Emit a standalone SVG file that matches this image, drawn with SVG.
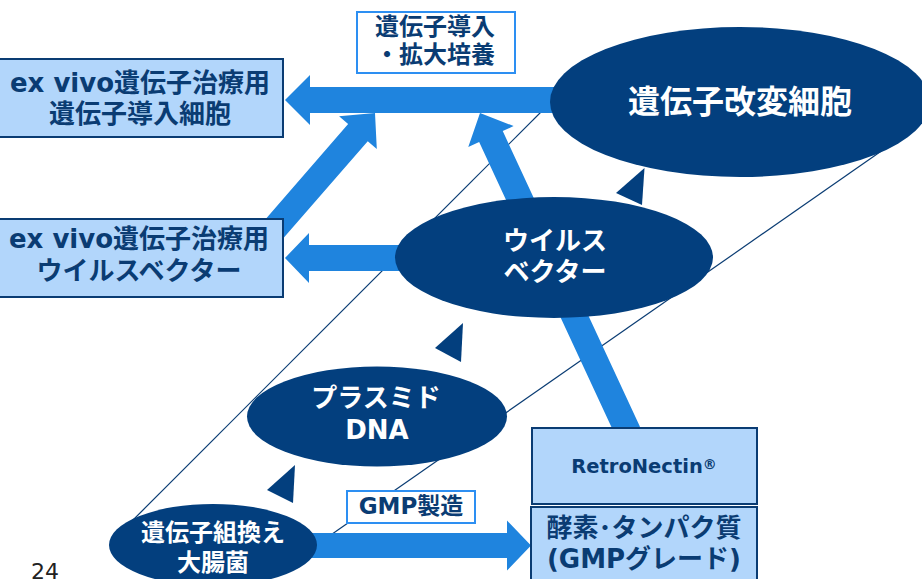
<svg xmlns="http://www.w3.org/2000/svg" width="922" height="579" viewBox="0 0 922 579">
<defs>
<style>
.t{font-family:"DejaVu Sans","Noto Sans CJK JP",sans-serif;font-weight:bold;text-anchor:middle}
.w{fill:#ffffff}
.n{fill:#0a3c73}
.ell{fill:#033f7e}
.box{fill:#b2d6fb;stroke:#0a3c73;stroke-width:2}
.lab{fill:#ffffff;stroke:#2d8ff2;stroke-width:2}
.arr{fill:#1f84de}
.ln{stroke:#0a3c73;stroke-width:1.2;fill:none}
.tri{fill:#033f7e}
</style>
</defs>
<rect width="922" height="579" fill="#ffffff"/>
<g id="connectors">
<line class="ln" x1="130" y1="523" x2="555" y2="98"/>
<line class="ln" x1="310" y1="549.4" x2="890" y2="145"/>
<polygon class="arr" points="-275,-13 -25,-13 -25,-25 0,0 -25,25 -25,13 -275,13" transform="translate(285,100) rotate(180)"/>
<polygon class="arr" points="-135,-13 -24,-13 -24,-25 0,0 -24,25 -24,13 -135,13" transform="translate(285,258) rotate(180)"/>
<polygon class="arr" points="-251,-12.5 -24,-12.5 -24,-25 0,0 -24,25 -24,12.5 -251,12.5" transform="translate(531,545.5)"/>
<polygon class="arr" points="-172,-13 -26,-13 -26,-25 0,0 -26,25 -26,13 -172,13" transform="translate(375,113) rotate(-49)"/>
<polygon class="arr" points="-352,-13 -26,-13 -26,-25 0,0 -26,25 -26,13 -352,13" transform="translate(480,113) rotate(-114.9)"/>
<polygon class="tri" points="616,193 644.5,168 642,205"/>
<polygon class="tri" points="435,348 463,323 461,362"/>
<polygon class="tri" points="267,490 295,465 293,503"/>
</g>
<g id="node-cells-box">
<rect class="box" x="-1" y="59" width="284" height="78"/>
<text class="t n" x="140" y="91.5" font-size="26">ex vivo遺伝子治療用</text>
<text class="t n" x="140" y="123" font-size="26">遺伝子導入細胞</text>
</g>
<g id="node-vector-box">
<rect class="box" x="-1" y="219" width="284" height="78"/>
<text class="t n" x="139" y="247.5" font-size="26">ex vivo遺伝子治療用</text>
<text class="t n" x="139" y="280" font-size="26">ウイルスベクター</text>
</g>
<g id="label-transduction">
<rect class="lab" x="357" y="12" width="158" height="61"/>
<text class="t n" x="435" y="35" font-size="24">遺伝子導入</text>
<text class="t n" x="435" y="63" font-size="24">・拡大培養</text>
</g>
<g id="node-modified-cells">
<ellipse class="ell" cx="740" cy="102" rx="190" ry="75"/>
<text class="t w" x="740" y="113" font-size="32">遺伝子改変細胞</text>
</g>
<g id="node-virus-vector">
<ellipse class="ell" cx="554" cy="257.5" rx="159" ry="60.5"/>
<text class="t w" x="555" y="250" font-size="26">ウイルス</text>
<text class="t w" x="555" y="281" font-size="26">ベクター</text>
</g>
<g id="node-plasmid">
<ellipse class="ell" cx="377" cy="416.5" rx="130" ry="50"/>
<text class="t w" x="376" y="407" font-size="26">プラスミド</text>
<text class="t w" x="377" y="438.5" font-size="26">DNA</text>
</g>
<g id="node-ecoli">
<ellipse class="ell" cx="213" cy="545" rx="104" ry="41"/>
<text class="t w" x="213" y="541" font-size="24">遺伝子組換え</text>
<text class="t w" x="213" y="571" font-size="24">大腸菌</text>
</g>
<g id="label-gmp">
<rect class="lab" x="347" y="491" width="128" height="32"/>
<text class="t n" x="411" y="514" font-size="23">GMP製造</text>
</g>
<g id="node-retronectin">
<rect class="box" x="532" y="428" width="225" height="76"/>
<text class="t n" x="644" y="473" font-size="19.5">RetroNectin<tspan font-size="14" dy="-4">®</tspan></text>
</g>
<g id="node-enzyme">
<rect class="box" x="531" y="507" width="226" height="80"/>
<text class="t n" x="644" y="536.5" font-size="26">酵素･タンパク質</text>
<text class="t n" x="644" y="567.5" font-size="26">(GMPグレード)</text>
</g>
<text x="31" y="579" font-family="DejaVu Sans, sans-serif" font-size="22" fill="#222222">24</text>
</svg>
